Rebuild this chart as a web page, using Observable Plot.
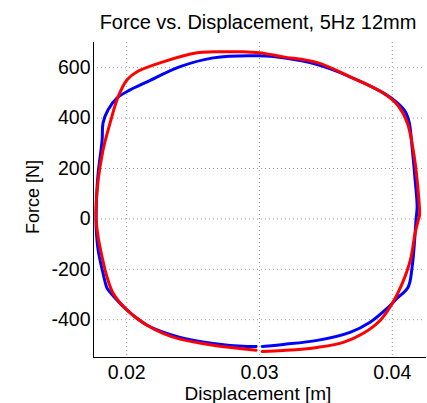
<!DOCTYPE html>
<html><head><meta charset="utf-8">
<script src="https://cdn.jsdelivr.net/npm/d3@7"></script>
<script src="https://cdn.jsdelivr.net/npm/@observablehq/plot@0.6"></script>
<style>
body{margin:0;background:#fff}
svg{font-family:"Liberation Sans",Arial,sans-serif}
</style>
</head><body><div id="chart"></div>
<script>
const title = "Force vs. Displacement, 5Hz 12mm";
const xLabel = "Displacement [m]";
const yLabel = "Force [N]";
const xTicks = [0.02, 0.03, 0.04];
const yTicks = [-400, -200, 0, 200, 400, 600];

const blueDisp = [0.03020,0.03179,0.03435,0.03682,0.03833,0.03961,0.04036,0.04119,0.04149,0.04172,0.04179,0.04187,0.04172,0.04149,0.04128,0.04098,0.04038,0.03932,0.03682,0.03435,0.03179,0.02998,0.02651,0.02402,0.02154,0.02026,0.01928,0.01860,0.01822,0.01815,0.01785,0.01777,0.01770,0.01770,0.01785,0.01822,0.01852,0.01875,0.02003,0.02154,0.02402,0.02651,0.02907,0.02975];
const blueForce = [-506,-498,-482,-450,-410,-355,-315,-271,-192,-56,-1,47,154,285,381,425,460,500,564,612,639,647,639,604,544,512,480,433,381,313,182,126,35,-33,-124,-216,-275,-291,-362,-422,-470,-494,-506,-506];

const redDisp = [0.03020,0.03179,0.03435,0.03631,0.03782,0.03910,0.04001,0.04076,0.04136,0.04172,0.04198,0.04205,0.04187,0.04157,0.04113,0.04038,0.03932,0.03682,0.03435,0.03179,0.02998,0.02855,0.02651,0.02530,0.02274,0.02078,0.02003,0.01935,0.01875,0.01822,0.01785,0.01770,0.01770,0.01785,0.01815,0.01852,0.01898,0.02003,0.02154,0.02274,0.02402,0.02651,0.02907,0.02975];
const redForce = [-526,-522,-510,-490,-454,-402,-335,-255,-164,-56,0,15,154,274,381,453,500,564,620,643,659,663,663,659,623,584,552,484,381,274,154,55,-5,-73,-152,-231,-295,-362,-422,-454,-477,-501,-517,-521];

const blue = blueDisp.map((d, i) => ({disp: d, force: blueForce[i]}));
const red = redDisp.map((d, i) => ({disp: d, force: redForce[i]}));

const gridStyle = {stroke: "#9a9a9a", strokeDasharray: "1,3", strokeWidth: 1};

const chart = Plot.plot({
  width: 427,
  height: 403,
  marginLeft: 93,
  marginRight: 2,
  marginTop: 42,
  marginBottom: 46,
  style: {fontSize: "19px", fontFamily: "'Liberation Sans', Arial, sans-serif", background: "#fff", color: "#000"},
  x: {domain: [0.0175, 0.0425]},
  y: {domain: [-550, 700]},
  marks: [
    Plot.ruleX(xTicks, gridStyle),
    Plot.ruleY(yTicks, gridStyle),
    Plot.frame({anchor: "left", stroke: "#000"}),
    Plot.frame({anchor: "bottom", stroke: "#000"}),
    Plot.axisX({ticks: xTicks, tickSize: 0, tickPadding: 8, tickFormat: d3.format(".2f"), label: null, fontSize: 19.5}),
    Plot.axisY({ticks: yTicks, tickSize: 0, tickPadding: 3, tickFormat: d => String(d), label: null, fontSize: 19.5}),
    Plot.line(blue, {x: "disp", y: "force", stroke: "#0000ff", strokeWidth: 3, strokeLinejoin: "round", curve: "catmull-rom"}),
    Plot.line(red, {x: "disp", y: "force", stroke: "#ff0000", strokeWidth: 3, strokeLinejoin: "round", curve: "catmull-rom"}),
    Plot.text([title], {frameAnchor: "top", lineAnchor: "middle", textAnchor: "middle", dx: -1.5, dy: -20.4, fontSize: 20}),
    Plot.text([xLabel], {frameAnchor: "bottom", lineAnchor: "middle", textAnchor: "middle", dx: -1.5, dy: 36, fontSize: 19}),
    Plot.text([yLabel], {frameAnchor: "left", lineAnchor: "middle", textAnchor: "middle", dx: -60, dy: -3, rotate: -90, fontSize: 18})
  ]
});
document.getElementById("chart").appendChild(chart);
</script>
</body></html>
